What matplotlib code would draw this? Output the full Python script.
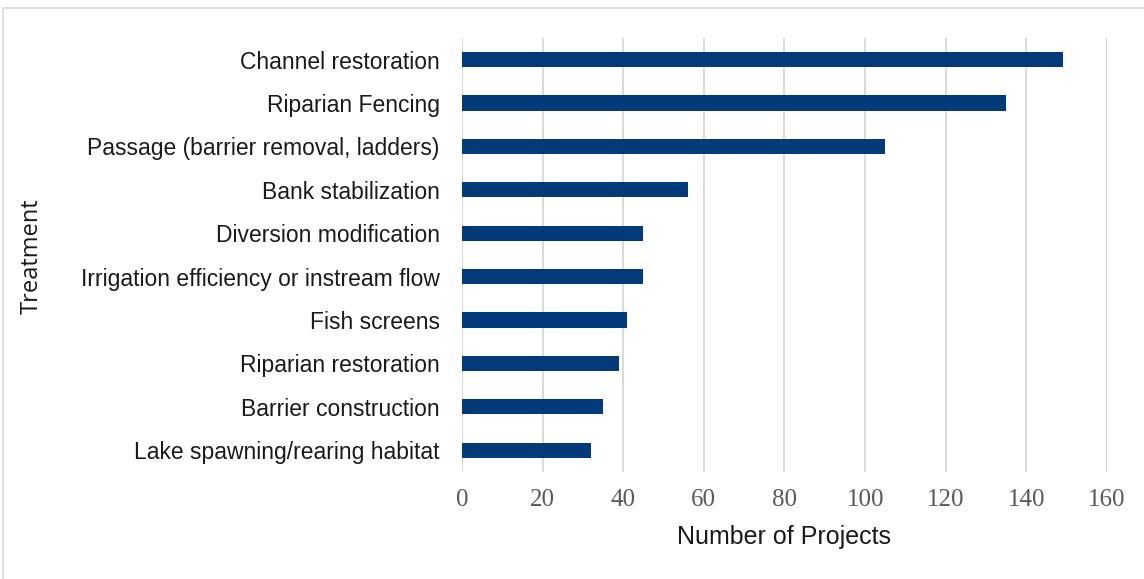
import matplotlib
matplotlib.use('Agg')
import matplotlib.pyplot as plt
from matplotlib.patches import Rectangle

# ===== DATA =====
treatments = ["Channel restoration", "Riparian Fencing", "Passage (barrier removal, ladders)",
              "Bank stabilization", "Diversion modification", "Irrigation efficiency or instream flow",
              "Fish screens", "Riparian restoration", "Barrier construction",
              "Lake spawning/rearing habitat"]
projects = [149, 135, 105, 56, 45, 45, 41, 39, 35, 32]
xticks = [0, 20, 40, 60, 80, 100, 120, 140, 160]

NARROW = ['Liberation Sans Narrow', 'Liberation Sans', 'DejaVu Sans']

fig = plt.figure(figsize=(11.44, 5.79), dpi=100)
ax = fig.add_axes([0.4038, 0.1848, 0.5639, 0.7496])

y = list(range(len(treatments)))[::-1]
ax.barh(y, projects, height=0.35, color='#033a79', zorder=3)

ax.set_xlim(0, 160)
ax.set_ylim(-0.5, len(treatments) - 0.5)
ax.set_xticks(xticks)
ax.set_xticklabels([str(v) for v in xticks], family='Liberation Serif', fontsize=18, color='#595959')
ax.set_yticks(y)
ax.set_yticklabels(treatments, family=NARROW, fontsize=16.5, color='#1a1a1a')
ax.tick_params(axis='both', length=0)
ax.tick_params(axis='x', pad=12)
ax.tick_params(axis='y', pad=16)
ax.grid(axis='x', color='#d9d9d9', lw=1.4, zorder=0)
for s in ax.spines.values():
    s.set_visible(False)

ax.set_xlabel('Number of Projects', family=NARROW, fontsize=18, color='#1a1a1a', labelpad=10)
fig.text(0.028, 0.558, 'Treatment', rotation=90, ha='center', va='center',
         family=['Open Sans', 'DejaVu Sans'], fontsize=17, color='#1a1a1a')

# light frame around chart
fig.patches.append(Rectangle((3 / 1144, -0.01), 1.02, 1 - 8 / 579 + 0.01, transform=fig.transFigure,
                             fill=False, edgecolor='#d9d9d9', lw=1.2))

plt.savefig('out.png', dpi=100)
plt.close()
